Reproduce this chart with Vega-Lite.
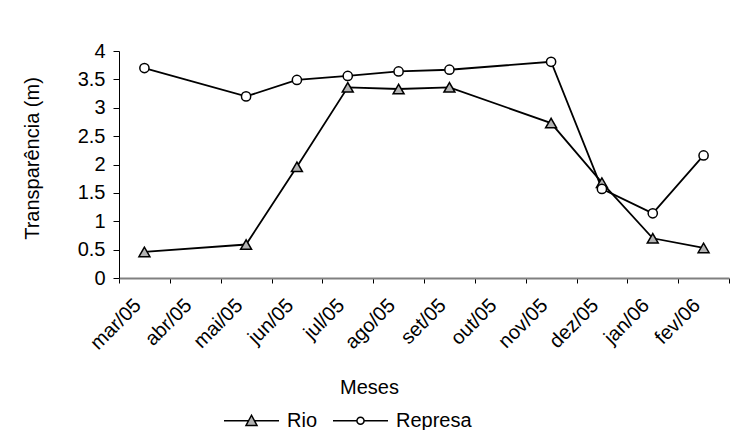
{
  "$schema": "https://vega.github.io/schema/vega-lite/v6.json",
  "width": 610,
  "height": 227,
  "autosize": {"type": "none"},
  "padding": {"left": 119, "top": 51, "right": 12, "bottom": 152},
  "background": "white",
  "config": {"view": {"stroke": null}, "font": "Liberation Sans"},
  "data": {
    "values": [
      {"serie": "Rio", "mes": "mar/05", "ordem": 1, "valor": 0.46},
      {"serie": "Rio", "mes": "mai/05", "ordem": 3, "valor": 0.59},
      {"serie": "Rio", "mes": "jun/05", "ordem": 4, "valor": 1.96},
      {"serie": "Rio", "mes": "jul/05", "ordem": 5, "valor": 3.36},
      {"serie": "Rio", "mes": "ago/05", "ordem": 6, "valor": 3.33},
      {"serie": "Rio", "mes": "set/05", "ordem": 7, "valor": 3.36},
      {"serie": "Rio", "mes": "nov/05", "ordem": 9, "valor": 2.73},
      {"serie": "Rio", "mes": "dez/05", "ordem": 10, "valor": 1.68},
      {"serie": "Rio", "mes": "jan/06", "ordem": 11, "valor": 0.70},
      {"serie": "Rio", "mes": "fev/06", "ordem": 12, "valor": 0.53},
      {"serie": "Represa", "mes": "mar/05", "ordem": 1, "valor": 3.70},
      {"serie": "Represa", "mes": "mai/05", "ordem": 3, "valor": 3.20},
      {"serie": "Represa", "mes": "jun/05", "ordem": 4, "valor": 3.49},
      {"serie": "Represa", "mes": "jul/05", "ordem": 5, "valor": 3.56},
      {"serie": "Represa", "mes": "ago/05", "ordem": 6, "valor": 3.64},
      {"serie": "Represa", "mes": "set/05", "ordem": 7, "valor": 3.67},
      {"serie": "Represa", "mes": "nov/05", "ordem": 9, "valor": 3.81},
      {"serie": "Represa", "mes": "dez/05", "ordem": 10, "valor": 1.57},
      {"serie": "Represa", "mes": "jan/06", "ordem": 11, "valor": 1.14},
      {"serie": "Represa", "mes": "fev/06", "ordem": 12, "valor": 2.16}
    ]
  },
  "encoding": {
    "x": {
      "field": "mes",
      "type": "ordinal",
      "bandPosition": 0.5,
      "scale": {
        "type": "band",
        "domain": ["mar/05", "abr/05", "mai/05", "jun/05", "jul/05", "ago/05", "set/05", "out/05", "nov/05", "dez/05", "jan/06", "fev/06"],
        "paddingInner": 0,
        "paddingOuter": 0
      },
      "axis": {
        "title": "Meses",
        "tickBand": "extent",
        "labelAngle": -45,
        "labelAlign": "right",
        "labelBaseline": "middle",
        "labelOffset": -7,
        "labelPadding": 19,
        "labelFontSize": 20,
        "labelFont": "Liberation Sans",
        "labelColor": "black",
        "domainColor": "#808080",
        "domainWidth": 2,
        "tickColor": "black",
        "tickSize": 5,
        "tickWidth": 1,
        "grid": false,
        "titleFont": "Liberation Sans",
        "titleFontSize": 20,
        "titleFontWeight": "normal",
        "titleColor": "black",
        "titleX": 250,
        "titleY": 115,
        "titleBaseline": "alphabetic",
        "titleAlign": "center"
      }
    },
    "y": {
      "field": "valor",
      "type": "quantitative",
      "scale": {"domain": [0, 4], "nice": false},
      "axis": {
        "title": "Transparência (m)",
        "values": [0, 0.5, 1, 1.5, 2, 2.5, 3, 3.5, 4],
        "format": "~g",
        "labelFontSize": 20,
        "labelFont": "Liberation Sans",
        "labelColor": "black",
        "labelPadding": 8,
        "tickSize": 6,
        "tickColor": "black",
        "tickWidth": 1,
        "domainColor": "black",
        "domainWidth": 1,
        "grid": false,
        "titleFont": "Liberation Sans",
        "titleFontSize": 20,
        "titleFontWeight": "normal",
        "titleColor": "black",
        "titlePadding": 35,
        "titleY": 107
      }
    }
  },
  "resolve": {"scale": {"shape": "independent", "fill": "independent", "stroke": "independent"}},
  "layer": [
    {
      "mark": {"type": "line", "color": "black", "strokeWidth": 1.8},
      "encoding": {
        "detail": {"field": "serie", "type": "nominal"},
        "order": {"field": "ordem", "type": "quantitative"}
      }
    },
    {
      "transform": [{"filter": "datum.serie === 'Rio'"}],
      "mark": {"type": "point", "shape": "triangle-up", "size": 120, "stroke": "black", "fill": "#b3b3b3", "strokeWidth": 1.5, "opacity": 1}
    },
    {
      "transform": [{"filter": "datum.serie === 'Represa'"}],
      "mark": {"type": "point", "shape": "circle", "size": 85, "stroke": "black", "fill": "white", "strokeWidth": 1.5, "opacity": 1}
    },
    {
      "transform": [{"filter": "datum.serie === 'nenhum'"}],
      "mark": {"type": "point", "strokeWidth": 1.5, "opacity": 1},
      "encoding": {
        "shape": {
          "field": "serie",
          "type": "nominal",
          "scale": {
            "domain": ["Rio", "Represa"],
            "range": [
              "M-1,0H-0.11M0.11,0H1M0,-0.2L-0.2,0.17L0.2,0.17Z",
              "M-1,0H-0.13M0.13,0H1M0.13,0A0.13,0.13 0 1,1 -0.13,0A0.13,0.13 0 1,1 0.13,0Z"
            ]
          },
          "legend": {
            "orient": "none",
            "legendX": 104,
            "legendY": 341,
            "direction": "horizontal",
            "title": null,
            "symbolSize": 3025,
            "labelFontSize": 20,
            "labelFont": "Liberation Sans",
            "labelColor": "black",
            "labelOffset": 7,
            "columnPadding": 12,
            "symbolStrokeWidth": 1.5
          }
        },
        "fill": {
          "field": "serie",
          "type": "nominal",
          "scale": {"domain": ["Rio", "Represa"], "range": ["#b3b3b3", "white"]}
        },
        "stroke": {
          "field": "serie",
          "type": "nominal",
          "scale": {"domain": ["Rio", "Represa"], "range": ["black", "black"]}
        }
      }
    }
  ]
}
